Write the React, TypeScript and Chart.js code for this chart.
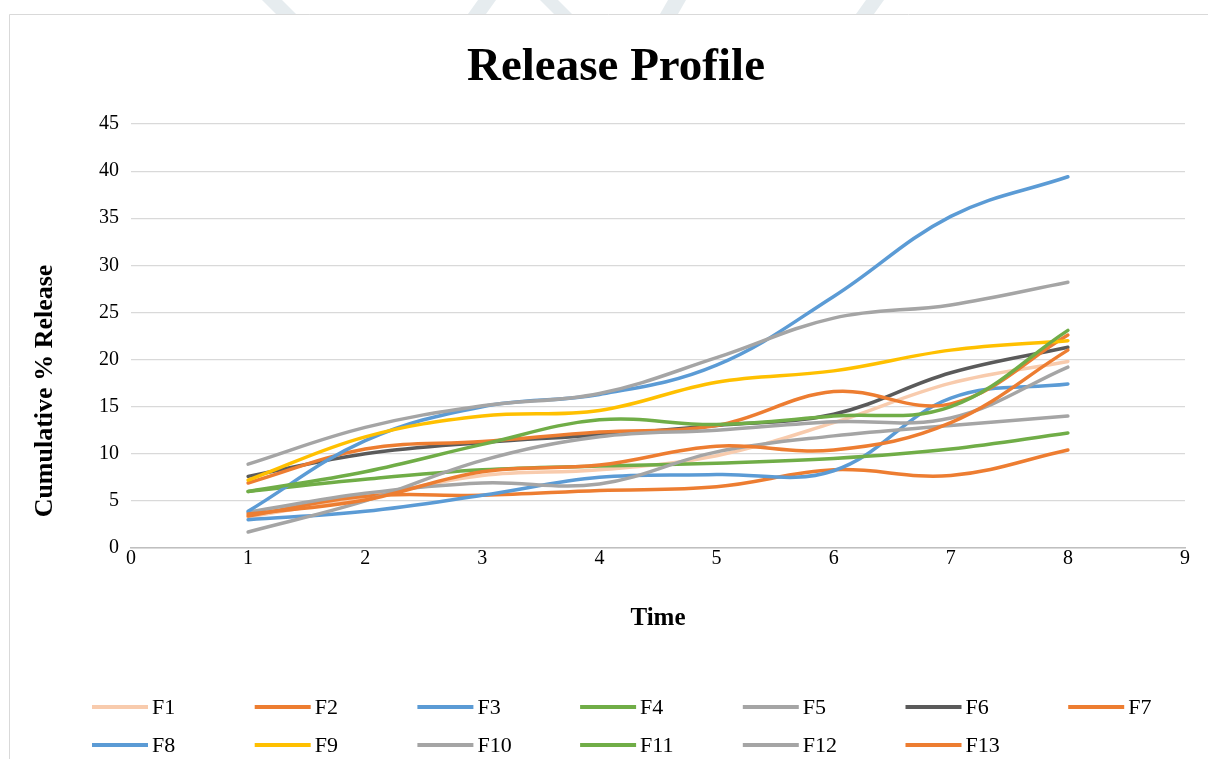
import React, { useEffect, useRef } from 'react';
import { Chart, registerables } from 'chart.js';

Chart.register(...registerables);

// Sampling times (x values)
const times = [1, 2, 3, 4, 5, 6, 7, 8];

// Cumulative % release for each formulation
const f1 = [3.3, 5.4, 7.7, 8.3, 9.8, 13.3, 17.5, 19.8];
const f2 = [3.4, 5.5, 5.6, 6.1, 6.5, 8.3, 7.7, 10.4];
const f3 = [3.0, 3.9, 5.6, 7.5, 7.8, 8.2, 15.9, 17.4];
const f4 = [6.0, 7.3, 8.3, 8.7, 9.0, 9.5, 10.5, 12.2];
const f5 = [3.8, 5.8, 6.9, 6.8, 10.2, 11.9, 13.0, 14.0];
const f6 = [7.6, 10.0, 11.2, 12.0, 13.0, 14.2, 18.6, 21.3];
const f7 = [6.9, 10.5, 11.3, 12.3, 13.0, 16.6, 15.3, 22.6];
const f8 = [3.9, 11.4, 15.0, 16.3, 19.4, 26.7, 35.2, 39.4];
const f9 = [7.2, 11.8, 14.0, 14.6, 17.6, 18.8, 21.0, 22.0];
const f10 = [8.9, 12.8, 15.1, 16.4, 20.2, 24.4, 25.8, 28.2];
const f11 = [6.0, 8.1, 11.0, 13.6, 13.1, 14.0, 15.0, 23.1];
const f12 = [1.7, 5.0, 9.3, 11.8, 12.5, 13.4, 13.8, 19.2];
const f13 = [3.6, 5.1, 8.1, 8.8, 10.8, 10.4, 13.3, 21.0];

const seriesNames = ['F1', 'F2', 'F3', 'F4', 'F5', 'F6', 'F7', 'F8', 'F9', 'F10', 'F11', 'F12', 'F13'];
const seriesValues = [f1, f2, f3, f4, f5, f6, f7, f8, f9, f10, f11, f12, f13];
const seriesColors = [
  '#F8CBAD', '#ED7D31', '#5B9BD5', '#70AD47', '#A5A5A5', '#5A5A5A', '#ED7D31',
  '#5B9BD5', '#FFC000', '#A5A5A5', '#70AD47', '#A5A5A5', '#ED7D31',
];

// Axis ranges
const xMin = 0;
const xMax = 9;
const yMin = 0;
const yMax = 45;
const yStep = 5;

const chartTitle = 'Release Profile';
const xTitle = 'Time';
const yTitle = 'Cumulative % Release';

const SERIF = '"Liberation Serif", "Times New Roman", serif';

// Background frame, faint page marks, titles and legend
const decorPlugin = {
  id: 'decor',
  beforeDraw(chart: any) {
    const ctx = chart.ctx;
    const w = chart.width;
    const h = chart.height;
    ctx.save();
    ctx.fillStyle = '#ffffff';
    ctx.fillRect(0, 0, w, h);

    // faint page marks above the frame
    ctx.fillStyle = '#E6ECEF';
    const marks = [
      [262, 0, 282, 0, 296, 14, 276, 14],
      [478, 0, 496, 0, 486, 14, 468, 14],
      [540, 0, 558, 0, 572, 14, 554, 14],
      [668, 0, 686, 0, 678, 14, 660, 14],
      [866, 0, 884, 0, 874, 14, 856, 14],
    ];
    marks.forEach((m) => {
      ctx.beginPath();
      ctx.moveTo(m[0], m[1]);
      ctx.lineTo(m[2], m[3]);
      ctx.lineTo(m[4], m[5]);
      ctx.lineTo(m[6], m[7]);
      ctx.closePath();
      ctx.fill();
    });

    // chart frame
    ctx.strokeStyle = '#D9D9D9';
    ctx.lineWidth = 1;
    ctx.beginPath();
    ctx.moveTo(9.5, h);
    ctx.lineTo(9.5, 14.5);
    ctx.lineTo(w, 14.5);
    ctx.stroke();
    ctx.restore();
  },
  afterDraw(chart: any) {
    const ctx = chart.ctx;
    const area = chart.chartArea;
    ctx.save();
    ctx.fillStyle = '#000000';

    // chart title
    ctx.font = `bold 47px ${SERIF}`;
    ctx.textAlign = 'center';
    ctx.textBaseline = 'alphabetic';
    ctx.fillText(chartTitle, 616, 80);

    // axis titles
    ctx.font = `bold 25px ${SERIF}`;
    ctx.textBaseline = 'middle';
    ctx.fillText(xTitle, (area.left + area.right) / 2, 619);
    ctx.save();
    ctx.font = `bold 26px ${SERIF}`;
    ctx.translate(45, 391);
    ctx.rotate(-Math.PI / 2);
    ctx.fillText(yTitle, 0, 0);
    ctx.restore();

    // legend, 7 columns
    ctx.font = `22px ${SERIF}`;
    ctx.textAlign = 'left';
    ctx.textBaseline = 'middle';
    chart.data.datasets.forEach((ds: any, i: number) => {
      const col = i % 7;
      const row = Math.floor(i / 7);
      const x = 92 + col * 162.7;
      const y = 707 + row * 38;
      ctx.strokeStyle = ds.borderColor;
      ctx.lineWidth = 4;
      ctx.lineCap = 'butt';
      ctx.beginPath();
      ctx.moveTo(x, y);
      ctx.lineTo(x + 56, y);
      ctx.stroke();
      ctx.fillStyle = '#000000';
      ctx.fillText(ds.label, x + 60, y + 1);
    });
    ctx.restore();
  },
};

export default function App() {
  const canvasRef = useRef<HTMLCanvasElement | null>(null);

  useEffect(() => {
    document.body.style.margin = '0';
    const canvas = canvasRef.current;
    if (!canvas) return;

    const datasets = seriesNames.map((name, i) => ({
      label: name,
      data: times.map((t, j) => ({ x: t, y: seriesValues[i][j] })),
      borderColor: seriesColors[i],
      backgroundColor: seriesColors[i],
      borderWidth: 3.5,
      pointRadius: 0,
      pointHoverRadius: 0,
      tension: 0.38,
      fill: false,
      order: -i,
      borderCapStyle: 'round' as const,
    }));

    const chart = new Chart(canvas, {
      type: 'line',
      data: { datasets },
      plugins: [decorPlugin],
      options: {
        responsive: false,
        animation: false,
        devicePixelRatio: 1,
        layout: { padding: { top: 124, left: 10, right: 23, bottom: 181 } },
        plugins: {
          legend: { display: false },
          title: { display: false },
          tooltip: { enabled: false },
        },
        scales: {
          x: {
            type: 'linear',
            min: xMin,
            max: xMax,
            afterFit: (scale: any) => {
              scale.height = 30;
            },
            ticks: {
              stepSize: 1,
              padding: 1,
              color: '#000000',
              font: { family: SERIF, size: 20, lineHeight: 1 },
            },
            grid: { display: false, drawTicks: false },
            border: { display: true, color: '#BFBFBF', width: 1.5 },
          },
          y: {
            type: 'linear',
            min: yMin,
            max: yMax,
            afterFit: (scale: any) => {
              scale.width = 121;
            },
            ticks: {
              stepSize: yStep,
              padding: 12,
              color: '#000000',
              font: { family: SERIF, size: 20 },
            },
            grid: { color: '#D9D9D9', lineWidth: 1.2, drawTicks: false },
            border: { display: false },
          },
        },
      },
    });

    return () => chart.destroy();
  }, []);

  return (
    <div style={{ position: 'relative', width: 1208, height: 759, background: '#fff' }}>
      <canvas ref={canvasRef} width={1208} height={759} style={{ display: 'block', width: 1208, height: 759 }} />
    </div>
  );
}
